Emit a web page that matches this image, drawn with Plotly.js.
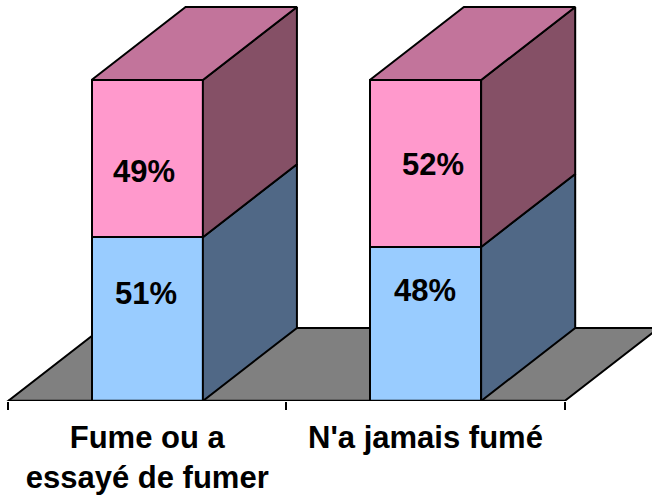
<!DOCTYPE html>
<html><head><meta charset="utf-8">
<script src="https://cdn.plot.ly/plotly-3.0.0.min.js"></script>
<style>html,body{margin:0;padding:0;background:#fff}</style></head>
<body><div id="c" style="width:652px;height:495px"></div>
<script>
const categories = ["Fume ou a<br>essayé de fumer", "N'a jamais fumé"];
const blueValues = [51, 48];
const pinkValues = [49, 52];
const blueLabelShift = [[-1, 26], [0, 33]];
const pinkLabelShift = [[-3, -13], [8, -1]];

const barWidth = 0.4, depthX = 0.338, depthY = 22.74;
const blue = "#99CCFF", blueSide = "#506886";
const pink = "#FF99CC", pinkSide = "#855066", pinkTop = "#C2749B";
const floorGrey = "#808080";
const edge = {color: "#000", width: 2};
const idx = categories.map((_, i) => i);

function poly(xs, ys, fill) {
  return {type: "scatter", mode: "lines", x: xs.concat(xs[0]), y: ys.concat(ys[0]), fill: "toself",
    fillcolor: fill, line: edge, hoverinfo: "skip", showlegend: false};
}
const traces = [
  {type: "bar", x: idx, y: blueValues, width: barWidth, marker: {color: blue, line: edge}, showlegend: false},
  {type: "bar", x: idx, y: pinkValues, width: barWidth, marker: {color: pink, line: edge}, showlegend: false}
];
idx.forEach(i => {
  const xr = i + barWidth / 2, xl = i - barWidth / 2;
  const b = blueValues[i], t = b + pinkValues[i];
  traces.push(poly([xr, xr + depthX, xr + depthX, xr], [0, depthY, b + depthY, b], blueSide));
  traces.push(poly([xr, xr + depthX, xr + depthX, xr], [b, b + depthY, t + depthY, t], pinkSide));
  traces.push(poly([xl, xl + depthX, xr + depthX, xr], [t, t + depthY, t + depthY, t], pinkTop));
});
traces.push({type: "scatter", mode: "lines", x: [-0.5, 1.5], y: [0, 0], cliponaxis: false,
  line: {color: "#000", width: 2.5}, hoverinfo: "skip", showlegend: false});

const annotations = [];
idx.forEach(i => {
  const font = {family: "Liberation Sans, Arial, sans-serif", size: 31, color: "#000"};
  annotations.push({x: i, y: blueValues[i] / 2, text: "<b>" + blueValues[i] + "%</b>", showarrow: false,
    font, xshift: blueLabelShift[i][0], yshift: blueLabelShift[i][1]});
  annotations.push({x: i, y: blueValues[i] + pinkValues[i] / 2, text: "<b>" + pinkValues[i] + "%</b>", showarrow: false,
    font, xshift: pinkLabelShift[i][0], yshift: pinkLabelShift[i][1]});
});

const fx0 = -0.5, fx1 = 1.5;
const layout = {
  width: 652, height: 495, margin: {l: 0, r: 0, t: 0, b: 94},
  paper_bgcolor: "#fff", plot_bgcolor: "#fff", barmode: "stack", showlegend: false,
  xaxis: {type: "linear", range: [-0.529, 1.814], showgrid: false, zeroline: false, showline: false,
    tickmode: "array", tickvals: idx, ticktext: categories.map(c => "<b>" + c.replace("<br>", "</b><br><b>") + "</b>"),
    ticks: "", ticklabelstandoff: 15,
    tickfont: {family: "Liberation Sans, Arial, sans-serif", size: 31, color: "#000"},
    minor: {tickmode: "array", tickvals: [-0.5, 0.5, 1.5], ticks: "outside", ticklen: 8, tickwidth: 2, tickcolor: "#000", showgrid: false}},
  yaxis: {range: [0, 401 / 3.21], visible: false, showgrid: false, zeroline: false},
  shapes: [{type: "path", layer: "below", xref: "x", yref: "y",
    path: `M${fx0},0 L${fx0 + depthX},${depthY} L${fx1 + depthX},${depthY} L${fx1},0 Z`,
    fillcolor: floorGrey, line: edge}],
  annotations
};
Plotly.newPlot("c", traces, layout, {displayModeBar: false, staticPlot: true});
</script></body></html>
